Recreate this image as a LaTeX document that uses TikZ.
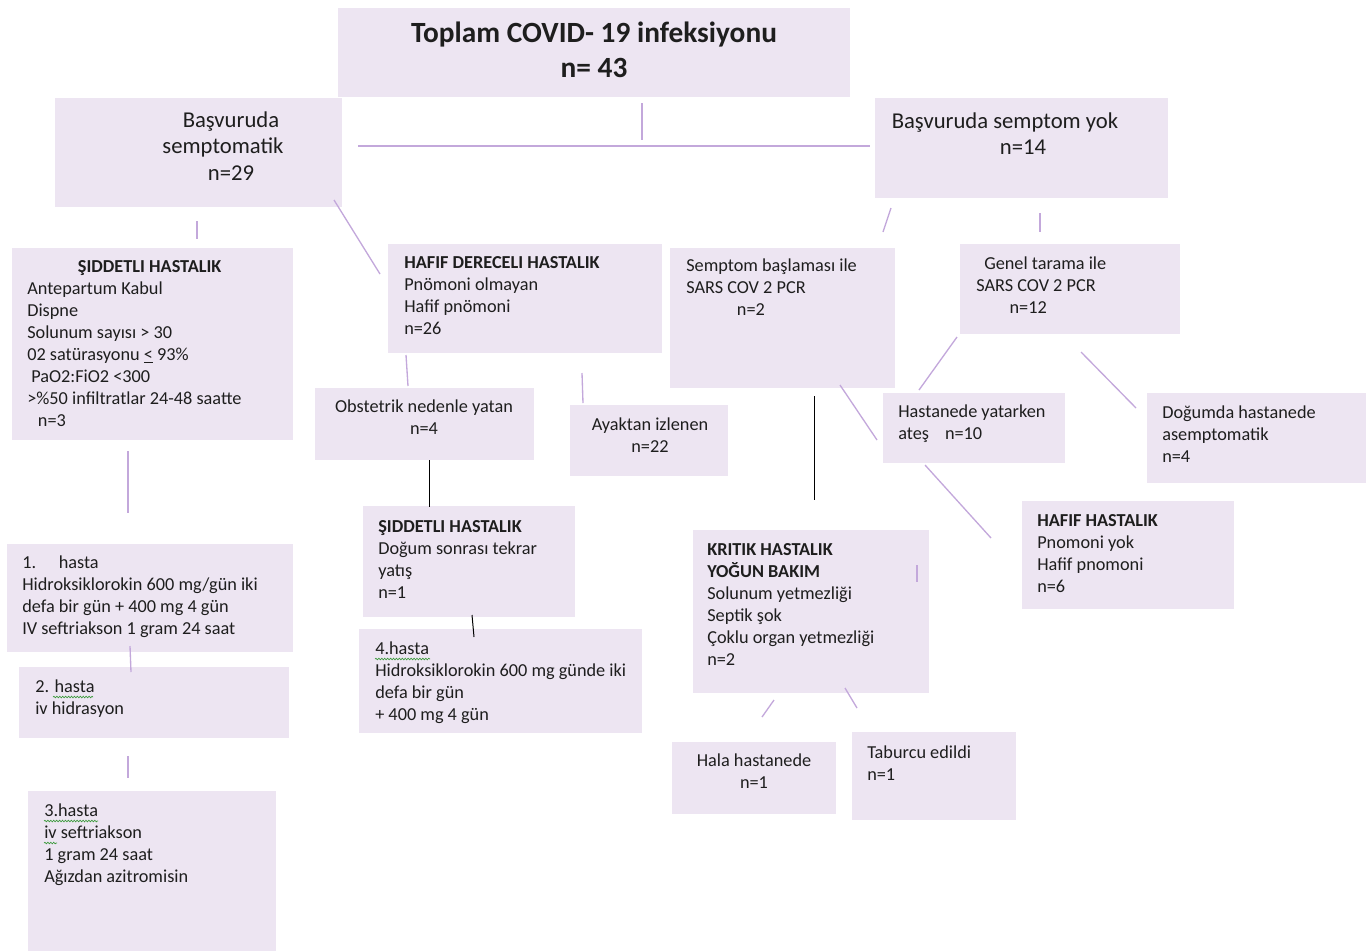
\documentclass[tikz,border=0pt]{standalone}
\usepackage{fontspec}
\setmainfont{Carlito}
\usetikzlibrary{fit,decorations.pathmorphing}
\definecolor{boxfill}{HTML}{EDE5F2}
\definecolor{linkline}{HTML}{C3A8DB}
\definecolor{spell}{HTML}{3C9A3C}
\definecolor{ink}{HTML}{1E1E1E}

\begin{document}
\begin{tikzpicture}[x=0.75pt, y=-0.75pt,
    box/.style={fill=boxfill, inner sep=0pt},
    txt/.style={font=\fontsize{13.7}{16.5}\selectfont, text=ink, inner sep=0pt, align=left, anchor=north west},
    ctxt/.style={txt, align=center, anchor=north},
    link/.style={draw=linkline, line width=1pt},
    blink/.style={draw=black, line width=0.75pt},
    spellmark/.style={draw=spell, line width=0.5pt, decorate,
      decoration={snake, amplitude=0.6pt, segment length=2.2pt}}]
  \useasboundingbox (0,0) rectangle (1370,951);

  % boxes
  \node[box, fit={(338,8) (850,97)}] (total) {};
  \node[box, fit={(55,98) (342,207)}] (symp) {};
  \node[box, fit={(875,98) (1168,198)}] (nosymp) {};
  \node[box, fit={(12,248) (293,440)}] (severe) {};
  \node[box, fit={(388,244) (662,353)}] (mild) {};
  \node[box, fit={(315,388) (534,460)}] (obst) {};
  \node[box, fit={(570,405) (728,476)}] (outpat) {};
  \node[box, fit={(670,248) (895,388)}] (onset) {};
  \node[box, fit={(960,244) (1180,334)}] (screen) {};
  \node[box, fit={(883,393) (1065,463)}] (fever) {};
  \node[box, fit={(1147,393) (1366,483)}] (birth) {};
  \node[box, fit={(1022,501) (1234,609)}] (mildb) {};
  \node[box, fit={(693,530) (929,693)}] (crit) {};
  \node[box, fit={(672,742) (836,814)}] (still) {};
  \node[box, fit={(852,732) (1016,820)}] (disch) {};
  \node[box, fit={(7,544) (293,652)}] (pat1) {};
  \node[box, fit={(19,667) (289,738)}] (pat2) {};
  \node[box, fit={(28,791) (276,951)}] (pat3) {};
  \node[box, fit={(363,506) (575,617)}] (severeb) {};
  \node[box, fit={(359,629) (642,733)}] (pat4) {};

  % texts
  \node[ctxt, font=\fontsize{22}{26.25}\selectfont\bfseries] (total-t) at (594,22)
    {Toplam COVID- 19 infeksiyonu\\n= 43};
  \node[ctxt, font=\fontsize{17}{20}\selectfont] (symp-t) at (223,111)
    {\hspace*{12pt}Başvuruda\\semptomatik\\\hspace*{12pt}n=29};
  \node[ctxt, font=\fontsize{17}{20}\selectfont] (nosymp-t) at (1005,112)
    {Başvuruda semptom yok\\\hspace*{27pt}n=14};
  \node[txt] (severe-t) at (27,260)
    {\hspace*{38pt}\textbf{ŞIDDETLI HASTALIK}\\Antepartum Kabul\\Dispne\\Solunum sayısı > 30\\
     02 satürasyonu \underline{<} 93\%\\\hspace*{3pt}PaO2:FiO2 <300\\>\%50 infiltratlar 24-48 saatte\\\hspace*{8pt}n=3};
  \node[txt] (mild-t) at (404,256)
    {\textbf{HAFIF DERECELI HASTALIK}\\Pnömoni  olmayan\\Hafif pnömoni\\n=26};
  \node[ctxt] (obst-t) at (424,400) {Obstetrik nedenle yatan\\n=4};
  \node[ctxt] (outpat-t) at (650,418) {Ayaktan izlenen\\n=22};
  \node[txt] (onset-t) at (686,259)
    {Semptom başlaması ile\\SARS COV 2 PCR\\\hspace*{38pt}n=2};
  \node[txt] (screen-t) at (976,257)
    {\hspace*{6pt}Genel tarama ile\\SARS COV 2 PCR\\\hspace*{25pt}n=12};
  \node[txt] (fever-t) at (898,405) {Hastanede yatarken\\ateş\hspace{12pt}n=10};
  \node[txt] (birth-t) at (1162,406) {Doğumda hastanede\\asemptomatik\\n=4};
  \node[txt] (mildb-t) at (1037,514) {\textbf{HAFIF HASTALIK}\\Pnomoni  yok\\Hafif pnomoni\\n=6};
  \node[txt] (crit-t) at (707,543)
    {\textbf{KRITIK HASTALIK}\\\textbf{YOĞUN BAKIM}\\Solunum  yetmezliği\\Septik şok\\Çoklu  organ yetmezliği\\n=2};
  \node[ctxt] (still-t) at (754,754) {Hala hastanede\\n=1};
  \node[txt] (disch-t) at (867,746) {Taburcu edildi\\n=1};
  \node[txt] (pat1-t) at (22,556)
    {1.\hspace{17pt}hasta\\Hidroksiklorokin  600 mg/gün iki\\defa bir gün + 400 mg 4 gün\\IV seftriakson 1 gram 24 saat};
  \node[txt] (pat2-t) at (35,680) {2. hasta\\iv hidrasyon};
  \node[txt] (pat3-t) at (44,804)
    {3.hasta\\iv seftriakson\\1 gram 24 saat\\Ağızdan azitromisin};
  \node[txt] (severeb-t) at (378,520)
    {\textbf{ŞIDDETLI HASTALIK}\\Doğum  sonrası tekrar\\yatış\\n=1};
  \node[txt] (pat4-t) at (375,642)
    {4.hasta\\Hidroksiklorokin  600 mg günde iki\\defa bir gün\\+ 400 mg 4 gün};

  % spelling marks
  \foreach \n/\a/\b in {s1/{53,697}/{93,697}, s2/{44,821}/{98,821},
      s3/{44,843}/{57,843}, s4/{375,659}/{430,659}} {
    \coordinate (\n a) at (\a);
    \coordinate (\n b) at (\b);
    \draw[spellmark] (\n a) -- (\n b);
  }

  % connectors
  \foreach \n/\a/\b in {c1/{642,103}/{642,140}, c2/{358,146}/{870,146},
      c3/{197,221}/{197,239}, c4/{334,200}/{380,274}, c5/{891,208}/{883,232},
      c6/{1040,213}/{1040,232}, c7/{406,355}/{408,386}, c8/{582,373}/{583,403},
      c9/{957,337}/{919,390}, c10/{840,385}/{877,440}, c11/{1081,352}/{1136,408},
      c12/{925,465}/{991,538}, c13/{917,565}/{917,582}, c14/{774,700}/{762,717},
      c15/{845,688}/{857,708}, c16/{128,451}/{128,513}, c17/{130,646}/{131,672},
      c18/{128,756}/{128,778}} {
    \coordinate (\n a) at (\a);
    \coordinate (\n b) at (\b);
    \draw[link] (\n a) -- (\n b);
  }
  \foreach \n/\a/\b in {k1/{814,396}/{814,500}, k2/{429,460}/{429,507},
      k3/{472,615}/{474,637}} {
    \coordinate (\n a) at (\a);
    \coordinate (\n b) at (\b);
    \draw[blink] (\n a) -- (\n b);
  }
\end{tikzpicture}
\end{document}
